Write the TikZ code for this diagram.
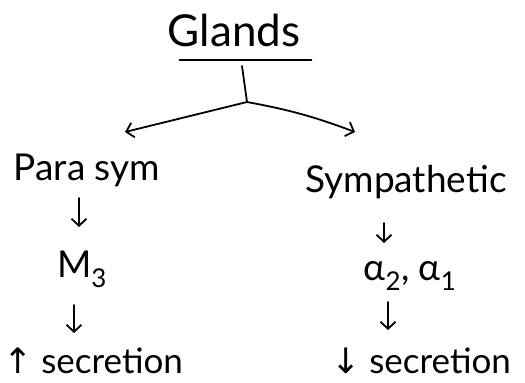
\documentclass[tikz,border=0pt]{standalone}
\usepackage{fontspec}
\setmainfont{Lato}
\newfontfamily\symfont{DejaVu Sans}
\usetikzlibrary{arrows.meta,calc}
\tikzset{
  pen/.style={line width=1.8pt, line cap=round, line join=round},
  arr/.style={pen, -{Straight Barb[length=7pt,width=15pt,line width=1.8pt]}},
  label/.style={inner sep=1pt, anchor=base, font=\fontsize{37}{42}\selectfont},
  title/.style={inner sep=1pt, anchor=base, font=\fontsize{44}{50}\selectfont},
}
\begin{document}
\begin{tikzpicture}[x=1pt,y=-1pt]
  \useasboundingbox (0,0) rectangle (525,383);
  % heading
  \node[title] (glands) at (234,46) {Glands};
  \draw[pen] ($(glands.base west)+(13,14)$) coordinate (ula) -- ($(glands.base east)+(10,14)$) coordinate (ulb);
  \coordinate (stem) at (242,66);
  \coordinate (j) at (247,102);
  \coordinate (ltip) at (125,132);
  \coordinate (rtip) at (355,132);
  % left column
  \node[label] (para) at (87,180) {Para sym};
  \node[label] (m3) at (82,277) {M\textsubscript{3}};
  \node[label, font=\fontsize{35}{40}\selectfont] (psec) at (93,373) {{\symfont ↑} secretion};
  % right column
  \node[label] (symp) at (406,192) {Sympathetic};
  \node[label] (alpha) at (410,280) {α\textsubscript{2}, α\textsubscript{1}};
  \node[label, font=\fontsize{35}{40}\selectfont] (ssec) at (421,373) {{\symfont ↓} secretion};
  % branching
  \draw[pen] (stem) -- (j);
  \draw[arr] (j) -- (ltip);
  \draw[arr] (j) to[bend left=5] (rtip);
  % downward steps
  \draw[arr] ([shift={(-8,18)}]para.base) -- ([shift={(-3,-50)}]m3.base);
  \draw[arr] ([shift={(-8,28)}]m3.base) -- ([shift={(-19,-40)}]psec.base);
  \draw[arr] ([shift={(-22,31)}]symp.base) -- ([shift={(-26,-37)}]alpha.base);
  \draw[arr] ([shift={(-22,22)}]alpha.base) -- ([shift={(-33,-43)}]ssec.base);
\end{tikzpicture}
\end{document}
